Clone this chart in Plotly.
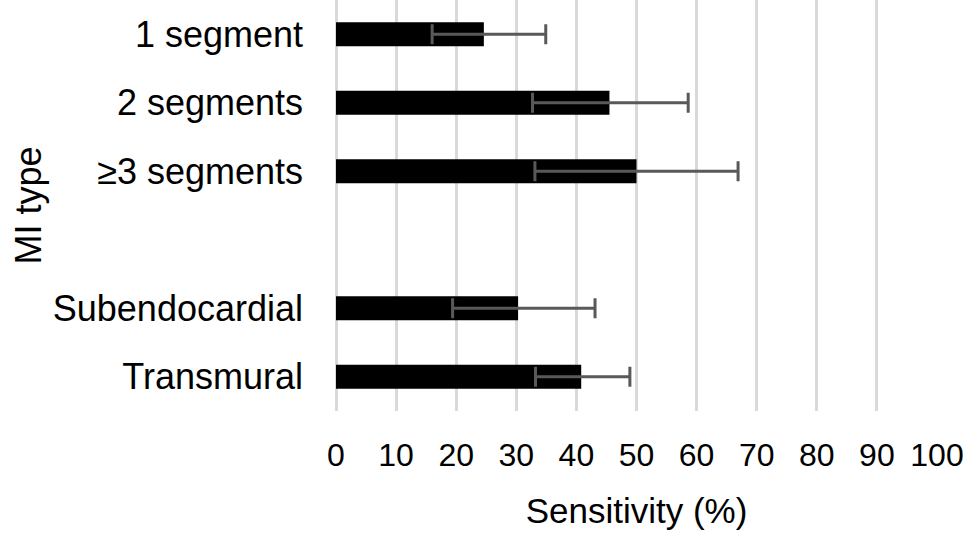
import plotly.graph_objects as go

categories = ["1 segment", "2 segments", "≥3 segments", " ", "Subendocardial", "Transmural"]
sensitivity = [24.6, 45.5, 50.0, None, 30.3, 40.8]
ci_low = [16.0, 32.7, 33.1, None, 19.4, 33.2]
ci_high = [34.9, 58.6, 66.9, None, 43.1, 48.9]
x_ticks = [0, 10, 20, 30, 40, 50, 60, 70, 80, 90, 100]

err_plus = [None if v is None else h - v for v, h in zip(sensitivity, ci_high)]
err_minus = [None if v is None else v - l for v, l in zip(sensitivity, ci_low)]

FONT = "Liberation Sans, Arial, sans-serif"

fig = go.Figure(go.Bar(
    y=categories, x=sensitivity, orientation="h",
    marker=dict(color="#000000", line=dict(width=0)),
    width=0.35,
    error_x=dict(type="data", symmetric=False, array=err_plus, arrayminus=err_minus,
                 color="#595959", thickness=3, width=10),
))

fig.update_layout(
    width=969, height=533,
    margin=dict(l=336, r=32, t=0, b=122),
    paper_bgcolor="white", plot_bgcolor="white",
    showlegend=False,
    font=dict(family=FONT, color="#000000"),
    xaxis=dict(
        range=[0, 100], tickvals=x_ticks, ticktext=[str(t) for t in x_ticks],
        showgrid=True, gridcolor="#d9d9d9", gridwidth=3,
        zeroline=True, zerolinecolor="#d9d9d9", zerolinewidth=3,
        showline=False, ticks="",
        tickfont=dict(size=32, family=FONT, color="#000000"),
        ticklabelstandoff=22,
        title=dict(text="Sensitivity (%)", font=dict(size=35, family=FONT, color="#000000"), standoff=26),
    ),
    yaxis=dict(
        type="category", categoryorder="array", categoryarray=categories,
        range=[5.5, -0.5],
        showgrid=False, zeroline=False, showline=False, ticks="",
        tickfont=dict(size=36, family=FONT, color="#000000"),
        ticklabelstandoff=32,
        title=dict(text="MI type", font=dict(size=36, family=FONT, color="#000000"), standoff=0),
    ),
)

fig.write_html("out.html", config={"displayModeBar": False},
               post_script="document.body.style.margin='0';document.body.style.overflow='hidden';")
